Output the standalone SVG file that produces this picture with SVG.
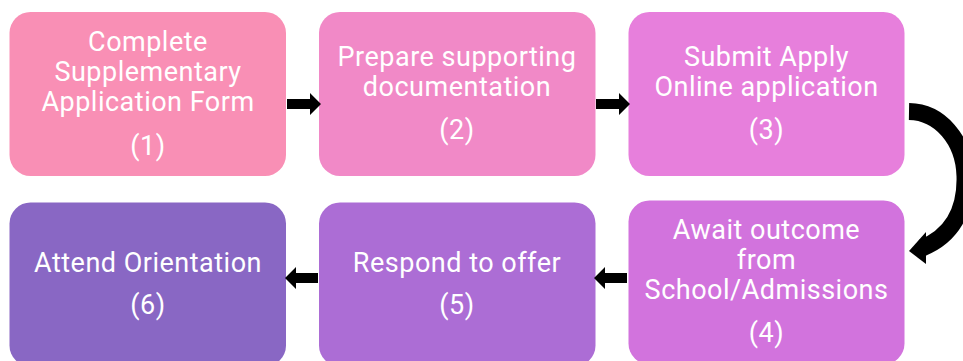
<svg xmlns="http://www.w3.org/2000/svg" width="963" height="361" viewBox="0 0 963 361">
<style>
.box{stroke:none}
.t{font-family:Roboto,"Liberation Sans",sans-serif;font-size:27px;letter-spacing:0.5px;fill:#ffffff;text-anchor:middle}
.arr{fill:#000000}
</style>
<rect width="963" height="361" fill="#ffffff"/>
<g id="node1">
<rect class="box" x="9.5" y="12" width="276.5" height="164" rx="21" fill="#F98FB5"/>
<text class="t" x="148" y="51">Complete</text>
<text class="t" x="148" y="81">Supplementary</text>
<text class="t" x="148" y="111">Application Form</text>
<text class="t" x="148" y="155">(1)</text>
</g>
<g id="node2">
<rect class="box" x="319" y="12" width="276.5" height="164" rx="21" fill="#F189C7"/>
<text class="t" x="457" y="66">Prepare supporting</text>
<text class="t" x="457" y="96">documentation</text>
<text class="t" x="457" y="139">(2)</text>
</g>
<g id="node3">
<rect class="box" x="628.5" y="12" width="276" height="164" rx="21" fill="#E77FDC"/>
<text class="t" x="766.5" y="66">Submit Apply</text>
<text class="t" x="766.5" y="96">Online application</text>
<text class="t" x="766.5" y="139">(3)</text>
</g>
<g id="node4">
<rect class="box" x="628.5" y="200.5" width="276" height="164" rx="21" fill="#D273DD"/>
<text class="t" x="766.5" y="239">Await outcome</text>
<text class="t" x="766.5" y="269">from</text>
<text class="t" x="766.5" y="299">School/Admissions</text>
<text class="t" x="766.5" y="342">(4)</text>
</g>
<g id="node5">
<rect class="box" x="319" y="202.5" width="276.5" height="164" rx="21" fill="#AC6DD5"/>
<text class="t" x="457" y="272">Respond to offer</text>
<text class="t" x="457" y="314">(5)</text>
</g>
<g id="node6">
<rect class="box" x="9.5" y="202.5" width="276.5" height="164" rx="21" fill="#8967C4"/>
<text class="t" x="148" y="272">Attend Orientation</text>
<text class="t" x="148" y="314">(6)</text>
</g>
<g id="connectors">
<polygon class="arr" points="287,99 310,99 310,93 321,104 310,115 310,109 287,109"/>
<polygon class="arr" points="596,99 619,99 619,93 630,104 619,115 619,109 596,109"/>
<polygon class="arr" points="627,273 605,273 605,267 594,278 605,289 605,283 627,283"/>
<polygon class="arr" points="318,273 296,273 296,267 285,278 296,289 296,283 318,283"/>
<path d="M909,111.5 C940,112 964,140 965,176 C966,210 952,236 922,248" fill="none" stroke="#000000" stroke-width="17"/>
<polygon class="arr" points="926,232 926,264 909,251"/>
</g>
</svg>
